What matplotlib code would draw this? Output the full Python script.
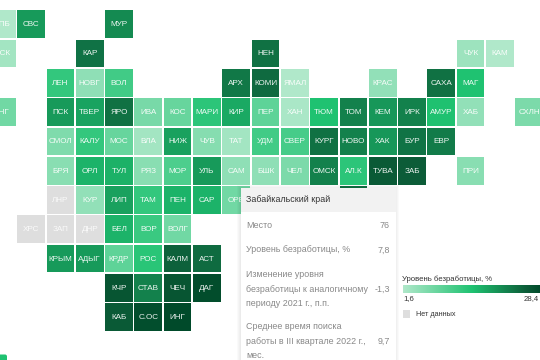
#!/usr/bin/env python3
import matplotlib
matplotlib.use("Agg")

import matplotlib.pyplot as plt
import numpy as np
from matplotlib.colors import LinearSegmentedColormap
from matplotlib.patches import FancyBboxPatch, Rectangle

plt.rcParams["font.family"] = ["Liberation Sans", "DejaVu Sans"]

# (label, column, unemployment %), None = no data
ROW_0 = [("СПБ", -1, 1.6), ("СВС", 0, 5.4), ("МУР", 3, 6.0)]
ROW_1 = [("МСК", -1, 1.8), ("КАР", 2, 6.9), ("НЕН", 8, 7.0), ("ЧУК", 15, 1.9), ("КАМ", 16, 1.6)]
ROW_2 = [("ЛЕН", 1, 3.5), ("НОВГ", 2, 2.1), ("ВОЛ", 3, 3.3), ("АРХ", 7, 6.7), ("КОМИ", 8, 7.25),
         ("ЯМАЛ", 9, 1.6), ("КРАС", 12, 2.05), ("САХА", 14, 7.0), ("МАГ", 15, 3.8)]
ROW_3 = [("КНГ", -1, 2.55), ("ПСК", 1, 5.4), ("ТВЕР", 2, 5.0), ("ЯРО", 3, 7.0), ("ИВА", 4, 2.45),
         ("КОС", 5, 2.7), ("МАРИ", 6, 3.6), ("КИР", 7, 4.8), ("ПЕР", 8, 2.85), ("ХАН", 9, 1.7),
         ("ТЮМ", 10, 3.8), ("ТОМ", 11, 6.35), ("КЕМ", 12, 5.5), ("ИРК", 13, 6.35), ("АМУР", 14, 3.85),
         ("ХАБ", 15, 2.05), ("СХЛН", 17, 2.4)]
ROW_4 = [("СМОЛ", 1, 2.35), ("КАЛУ", 2, 3.5), ("МОС", 3, 2.7), ("ВЛА", 4, 1.8), ("НИЖ", 5, 5.1),
         ("ЧУВ", 6, 2.25), ("ТАТ", 7, 1.8), ("УДМ", 8, 3.3), ("СВЕР", 9, 3.2), ("КУРГ", 10, 7.0),
         ("НОВО", 11, 6.35), ("ХАК", 12, 5.5), ("БУР", 13, 6.85), ("ЕВР", 14, 6.6)]
ROW_5 = [("БРЯ", 1, 2.2), ("ОРЛ", 2, 4.35), ("ТУЛ", 3, 4.5), ("РЯЗ", 4, 2.2), ("МОР", 5, 3.1),
         ("УЛЬ", 6, 5.4), ("САМ", 7, 2.1), ("БШК", 8, 2.1), ("ЧЕЛ", 9, 2.4), ("ОМСК", 10, 6.35),
         ("АЛ.К", 11, 3.6), ("ТУВА", 12, 10.0), ("ЗАБ", 13, 7.8), ("ПРИ", 15, 2.2)]
ROW_6 = [("ЛНР", 1, None), ("КУР", 2, 2.05), ("ЛИП", 3, 5.1), ("ТАМ", 4, 3.5), ("ПЕН", 5, 4.35),
         ("САР", 6, 4.35), ("ОРЕ", 7, 2.55), ("", 11, 7.0)]
ROW_7 = [("ХРС", 0, None), ("ЗАП", 1, None), ("ДНР", 2, None), ("БЕЛ", 3, 4.35), ("ВОР", 4, 3.4),
         ("ВОЛГ", 5, 2.55)]
ROW_8 = [("КРЫМ", 1, 5.4), ("АДЫГ", 2, 5.4), ("КРДР", 3, 2.85), ("РОС", 4, 3.65), ("КАЛМ", 5, 7.6),
         ("АСТ", 6, 7.2)]
ROW_9 = [("КЧР", 3, 15.8), ("СТАВ", 4, 6.35), ("ЧЕЧ", 5, 15.8), ("ДАГ", 6, 25.0)]
ROW_10 = [("КАБ", 3, 10.0), ("С.ОС", 4, 24.0), ("ИНГ", 5, 28.4)]
ROWS = [ROW_0, ROW_1, ROW_2, ROW_3, ROW_4, ROW_5, ROW_6, ROW_7, ROW_8, ROW_9, ROW_10]

SCALE_VALUES = [1.6, 3.8, 7.8, 28.4]
SCALE_STOPS = [0.0, 0.5, 0.9, 1.0]
SCALE_COLORS = ["#b0e8ca", "#1fc271", "#0c5c38", "#004a2a"]
NO_DATA = "#dedede"

TOOLTIP_ROWS = [
    ("Место", "76"),
    ("Уровень безработицы, %", "7,8"),
    ("Изменение уровня\nбезработицы к аналогичному\nпериоду 2021 г., п.п.", "-1,3"),
    ("Среднее время поиска\nработы в III квартале 2022 г.,\nмес.", "9,7"),
]
TOOLTIP_Y = [225, 250, 289, 341]

cmap = LinearSegmentedColormap.from_list("unemp", list(zip(SCALE_STOPS, SCALE_COLORS)))


def cell_color(value):
    if value is None:
        return NO_DATA
    return cmap(np.interp(value, SCALE_VALUES, SCALE_STOPS))


fig = plt.figure(figsize=(5.4, 3.6), dpi=100)

# grid axes: one unit = one cell pitch
ax = fig.add_axes([0, 0, 1, 1])
ax.set_xlim(-0.59, 17.84)
ax.set_ylim(11.93, -0.35)
ax.axis("off")

for r, row in enumerate(ROWS):
    for label, c, value in row:
        ax.bar(c, 0.945, width=0.945, bottom=r, align="edge", color=cell_color(value), linewidth=0)
        ax.text(c + 0.472, r + 0.49, label, color="white", alpha=0.85 if value is None else 0.92,
                fontsize=5.9, ha="center", va="center", clip_on=True)

# overlay axes in image pixels for tooltip and legend
ui = fig.add_axes([0, 0, 1, 1], zorder=2)
ui.axis("off")
ui.patch.set_alpha(0)

for i in range(4):
    ui.add_patch(Rectangle((240 - i, 188 - i), 156 + 2 * i, 172 + i, color="#000000", alpha=0.02, lw=0))
ui.add_patch(Rectangle((240.5, 188), 155, 172, color="white", lw=0))
ui.add_patch(Rectangle((240.5, 188), 155, 24, color="#f2f2f2", lw=0))
ui.text(246, 200, "Забайкальский край", color="#333333", fontsize=6.4, va="center")
for (name, val), y in zip(TOOLTIP_ROWS, TOOLTIP_Y):
    ui.text(246, y, name, color="#888888", fontsize=6.4, va="center", linespacing=1.75)
    ui.text(390, y, val, color="#888888", fontsize=6.4, va="center", ha="right")

ui.text(402, 279, "Уровень безработицы, %", color="#333333", fontsize=5.6, va="center")
gradient = np.linspace(0, 1, 256).reshape(1, -1)
ui.imshow(gradient, cmap=cmap, extent=(402.5, 540, 293, 285), aspect="auto")
ui.text(403, 299, "1,6", color="#333333", fontsize=5.6, va="center")
ui.text(539, 299, "28,4", color="#333333", fontsize=5.6, va="center", ha="right")
ui.add_patch(Rectangle((402.5, 310), 7.5, 7.5, color=NO_DATA, lw=0))
ui.text(416, 314, "Нет данных", color="#333333", fontsize=5.2, va="center")

# cut-off button in the corner
ui.add_patch(FancyBboxPatch((-6, 354.5), 13, 10, boxstyle="round,pad=0,rounding_size=2",
                            color="#1fc271", lw=0))

ui.set_xlim(0, 540)
ui.set_ylim(360, 0)

fig.savefig("out.png", dpi=100)
